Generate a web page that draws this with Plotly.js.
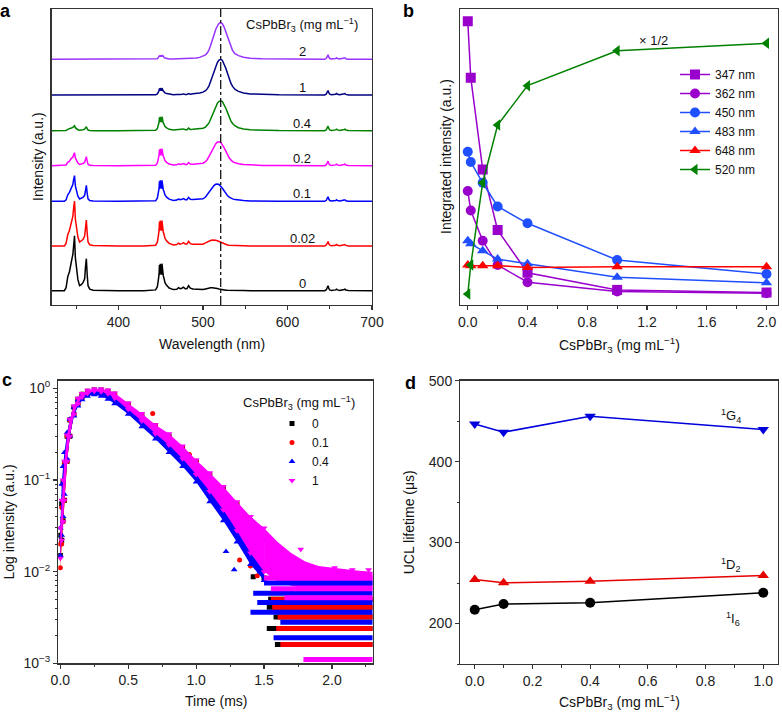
<!DOCTYPE html>
<html><head><meta charset="utf-8">
<script src="https://cdn.plot.ly/plotly-3.0.1.min.js"></script>
<style>html,body{margin:0;padding:0;background:#fff;}#chart{width:782px;height:712px;}</style>
</head><body><div id="chart"></div>
<script>
// ================= Panel a : emission spectra =================
const wavelength = [
 321, 336, 338, 340, 342, 344, 345, 346, 347, 348,
 349, 350, 352, 354, 356, 358, 360, 361, 362, 363,
 364, 366, 370, 400, 430, 444, 446, 447, 448, 448.5,
 449, 449.5, 450, 450.5, 451, 451.5, 452, 452.5, 453, 454,
 455, 457, 460, 465, 469, 471, 473, 475, 477, 479,
 481, 483, 485, 488, 492, 496, 500, 503, 505, 507,
 509, 511, 513, 515, 517, 519, 521, 523, 525, 527,
 529, 531, 533, 535, 538, 542, 548, 556, 570, 590,
 644, 646, 647, 648, 649, 650, 652, 655, 657, 658,
 659, 662, 666, 667, 668, 669, 672, 700];
const spectrum_0 = [
 0, 0, 3, 14, 19, 30, 32, 36, 47, 55,
 33, 23, 11, 5, 6, 8, 12, 24, 32, 16,
 5, 1.5, 0.5, 0, 0, 0.8, 4, 9.5, 16, 25.6,
 16, 27, 17.5, 25.6, 16, 27, 19, 24.3, 15, 12,
 8, 5.4, 2.7, 1.1, 1.5, 3, 2, 2.5, 3.5, 2,
 2, 5, 2.5, 1.7, 1.5, 1.1, 1.2, 1.8, 2.3, 2.7,
 2.9, 3, 2.9, 2.6, 2.2, 1.8, 1.3, 1, 0.7, 0.5,
 0.4, 0.3, 0.25, 0.2, 0.1, 0.1, 0.1, 0, 0, 0,
 0, 1, 3, 5, 2, 0.8, 0.3, 0.3, 0.8, 1.5,
 0.8, 0.3, 0.5, 1.2, 1.5, 0.6, 0.1, 0];
const spectrum_002 = [
 0, 0, 2.5, 11.5, 15.5, 24.5, 26, 29.5, 38.5, 45,
 27, 19, 9, 4, 5, 6.5, 10, 19.5, 26, 13,
 4, 1.2, 0.4, 0, 0, 0.8, 3.8, 8.9, 15.3, 24.2,
 15.3, 25.5, 16.6, 24.2, 15.3, 25.5, 17.9, 23, 14, 11.5,
 7.7, 5.1, 2.6, 1, 1.4, 2.8, 1.9, 2.4, 3.3, 1.9,
 1.9, 4.7, 2.4, 1.7, 1.6, 1.4, 1.8, 3.2, 4.1, 4.9,
 5.5, 5.9, 6, 5.8, 5.3, 4.5, 3.7, 2.7, 2, 1.4,
 1, 0.8, 0.7, 0.5, 0.4, 0.3, 0.2, 0.1, 0, 0,
 0, 1, 3, 4.5, 2, 0.8, 0.3, 0.3, 0.8, 1.5,
 0.8, 0.3, 0.5, 1.2, 1.5, 0.6, 0.1, 0];
const spectrum_01 = [
 0, 0, 1.4, 6.5, 8.9, 14, 15, 16.8, 22, 25.7,
 15.4, 10.7, 5.1, 2.3, 2.8, 4, 6, 12, 16, 8,
 2.5, 0.8, 0.3, 0, 0, 0.6, 3.2, 7.4, 12.6, 20,
 12.6, 21, 13.7, 20, 12.6, 21, 14.7, 18.9, 11.6, 9.5,
 6.3, 4.2, 2.1, 0.8, 1.2, 2.3, 1.6, 2, 2.7, 1.6,
 1.6, 3.9, 2, 1.8, 1.8, 1.8, 2.5, 4.3, 6.6, 9.2,
 11.8, 14, 15.7, 17, 17.3, 16.8, 15.2, 13, 10.6, 7.8,
 5.7, 4.2, 2.9, 2.4, 1.7, 1.1, 0.7, 0.4, 0.2, 0.1,
 0, 1, 3, 4.5, 2, 0.8, 0.3, 0.3, 0.8, 1.5,
 0.8, 0.3, 0.5, 1.2, 1.5, 0.6, 0.1, 0];
const spectrum_02 = [
 0, 0, 0.7, 3.3, 4.5, 7.1, 7.6, 8.5, 11.1, 13,
 7.8, 5.4, 2.6, 1.2, 1.4, 2.2, 3.4, 6.7, 9, 4.5,
 1.4, 0.4, 0.1, 0, 0, 0.5, 2.6, 6, 10.2, 16.2,
 10.2, 17, 11, 16.2, 10.2, 17, 11.9, 15.3, 9.4, 7.7,
 5.1, 3.4, 1.7, 0.7, 0.9, 1.9, 1.3, 1.6, 2.2, 1.3,
 1.3, 3.2, 1.6, 1.5, 1.8, 1.8, 2.5, 4.1, 6, 9.1,
 12.7, 16.3, 19.4, 21.8, 23.5, 24, 23.3, 21.1, 18, 14.6,
 10.8, 7.9, 5.8, 4.1, 3, 1.9, 1.2, 0.7, 0.3, 0.1,
 0, 1, 3, 4.5, 2, 0.8, 0.3, 0.3, 0.8, 1.5,
 0.8, 0.3, 0.5, 1.2, 1.5, 0.6, 0.1, 0];
const spectrum_04 = [
 0, 0, 0.3, 1.3, 1.7, 2.7, 2.9, 3.3, 4.3, 5,
 3, 2.1, 1, 0.5, 0.5, 1, 1.5, 3, 4, 2,
 0.6, 0.2, 0, 0, 0, 0.4, 2.1, 4.9, 8.4, 13.3,
 8.4, 14, 9.1, 13.3, 8.4, 14, 9.8, 12.6, 7.7, 6.3,
 4.2, 2.8, 1.4, 0.6, 0.8, 1.6, 1, 1.3, 1.8, 1,
 1, 2.6, 1.3, 1.4, 1.5, 1.8, 2.4, 3.6, 5.1, 7.5,
 11.4, 15.9, 20.4, 24.3, 27.3, 29.4, 30, 29.1, 26.4, 22.5,
 18.3, 13.5, 9.9, 7.2, 4.7, 3, 1.7, 0.9, 0.5, 0.15,
 0, 1, 3, 4.5, 2, 0.8, 0.3, 0.3, 0.8, 1.5,
 0.8, 0.3, 0.5, 1.2, 1.5, 0.6, 0.1, 0];
const spectrum_1 = [
 0, 0, 0, 0, 0, 0.1, 0.2, 0.3, 0.4, 0.5,
 0.3, 0.1, 0, 0, 0, 0, 0.1, 0.3, 0.5, 0.2,
 0, 0, 0, 0, 0, 0.2, 1.1, 2.5, 4.2, 6.7,
 4.2, 7, 4.6, 6.7, 4.2, 7, 4.9, 6.3, 3.9, 3.2,
 2.1, 1.4, 0.7, 0.3, 0.5, 0.9, 0.6, 0.8, 1.1, 0.6,
 0.6, 1.5, 0.8, 1.2, 1.5, 2, 2.9, 4.3, 6.1, 8.9,
 13.6, 18.9, 24.3, 28.9, 32.5, 35, 35.7, 34.6, 31.4, 26.8,
 21.8, 16.1, 11.8, 8.6, 5.5, 3.6, 2, 1.1, 0.5, 0.2,
 0, 1, 3, 4.5, 2, 0.8, 0.3, 0.3, 0.8, 1.5,
 0.8, 0.3, 0.5, 1.2, 1.5, 0.6, 0.1, 0];
const spectrum_2 = [
 0, 0, 0, 0, 0, 0, 0, 0, 0, 0,
 0, 0, 0, 0, 0, 0, 0, 0, 0, 0,
 0, 0, 0, 0, 0, 0.1, 0.6, 1.4, 2.4, 3.8,
 2.4, 4, 2.6, 3.8, 2.4, 4, 2.8, 3.6, 2.2, 1.8,
 1.2, 0.8, 0.4, 0.2, 0.3, 0.6, 0.4, 0.5, 0.7, 0.4,
 0.4, 1, 0.5, 1, 1.3, 1.9, 2.9, 4.4, 6.2, 9.2,
 13.9, 19.4, 24.9, 29.6, 33.3, 35.9, 36.6, 35.5, 32.2, 27.5,
 22.3, 16.5, 12.1, 8.8, 5.7, 3.7, 2, 1.1, 0.5, 0.2,
 0, 1, 3, 4.5, 2, 0.8, 0.3, 0.3, 0.8, 1.5,
 0.8, 0.3, 0.5, 1.2, 1.5, 0.6, 0.1, 0];
const spectraLabels = ['0', '0.02', '0.1', '0.2', '0.4', '1', '2'];
const referenceWavelength = 521;

// ================= Panel b : integrated intensity =================
const concB = [0, 0.02, 0.1, 0.2, 0.4, 1, 2];
const int347 = [95.9, 76.8, 45.8, 25.3, 10.9, 5.1, 4.2];
const int362 = [38.5, 31.9, 21.7, 13.5, 7.7, 4.6, 4.0];
const int450 = [51.8, 48.3, 41.3, 33.3, 27.6, 15.2, 10.5];
const int483 = [21.7, 20.7, 18.3, 15.5, 13.9, 9.4, 7.5];
const int648 = [13.5, 13.3, 13.3, 13.3, 12.7, 12.9, 12.9];
const int520 = [3.7, 13.5, 41.3, 60.8, 74.1, 85.9, 88.4];
const bandNamesB = ['347 nm', '362 nm', '450 nm', '483 nm', '648 nm', '520 nm'];

// ================= Panel c : decay curves =================
const timeMs = [0, 0.01, 0.02, 0.03, 0.05, 0.07, 0.1, 0.13, 0.16, 0.2, 0.25, 0.3, 0.35, 0.4, 0.5, 0.6, 0.7, 0.8, 0.9, 1.0, 1.1, 1.2, 1.3, 1.4, 1.5];
const decay0Hi = [0.025, 0.055, 0.095, 0.15, 0.3, 0.45, 0.62, 0.76, 0.86, 0.93, 0.96, 0.96, 0.93, 0.86, 0.67, 0.51, 0.39, 0.3, 0.22, 0.16, 0.115, 0.08, 0.055, 0.036, 0.022];
const decay0Lo = [0.015, 0.022, 0.036, 0.06, 0.16, 0.3, 0.52, 0.68, 0.8, 0.88, 0.93, 0.92, 0.87, 0.79, 0.6, 0.45, 0.33, 0.25, 0.18, 0.12, 0.08, 0.052, 0.03, 0.017, 0.011];
const decay01Hi = [0.02, 0.05, 0.09, 0.15, 0.3, 0.45, 0.62, 0.76, 0.86, 0.93, 0.96, 0.96, 0.93, 0.86, 0.67, 0.51, 0.39, 0.3, 0.22, 0.16, 0.115, 0.08, 0.055, 0.035, 0.022];
const decay01Lo = [0.011, 0.02, 0.035, 0.06, 0.16, 0.3, 0.52, 0.68, 0.8, 0.88, 0.93, 0.92, 0.87, 0.79, 0.6, 0.45, 0.33, 0.25, 0.18, 0.12, 0.08, 0.052, 0.03, 0.017, 0.011];
const decay04Hi = [0.03, 0.09, 0.14, 0.2, 0.33, 0.46, 0.62, 0.75, 0.84, 0.9, 0.94, 0.92, 0.87, 0.8, 0.62, 0.47, 0.35, 0.27, 0.19, 0.135, 0.095, 0.065, 0.045, 0.03, 0.022];
const decay04Lo = [0.015, 0.025, 0.04, 0.07, 0.17, 0.3, 0.5, 0.64, 0.75, 0.82, 0.85, 0.82, 0.76, 0.68, 0.52, 0.38, 0.28, 0.2, 0.14, 0.095, 0.058, 0.036, 0.021, 0.012, 0.008];
const decay1Hi = [0.03, 0.06, 0.1, 0.16, 0.31, 0.46, 0.64, 0.78, 0.88, 0.95, 0.98, 0.98, 0.96, 0.89, 0.69, 0.53, 0.4, 0.32, 0.235, 0.165, 0.12, 0.085, 0.058, 0.04, 0.03];
const decay1Lo = [0.014, 0.022, 0.035, 0.06, 0.16, 0.3, 0.52, 0.68, 0.8, 0.88, 0.93, 0.92, 0.87, 0.78, 0.59, 0.44, 0.32, 0.24, 0.17, 0.115, 0.075, 0.047, 0.028, 0.016, 0.01];
// sample "1" keeps a dense band in the late tail
const tailTimeMs = [1.5, 1.6, 1.7, 1.8, 1.9, 2.0, 2.1, 2.2, 2.3];
const decay1TailHi = [0.03, 0.021, 0.016, 0.013, 0.0115, 0.011, 0.0105, 0.0102, 0.01];
const decay1TailLo = [0.01, 0.0078, 0.007, 0.0066, 0.0064, 0.0063, 0.0063, 0.0063, 0.0063];
// long-time tail: quantised count levels (value) and the time where each level starts
const tail0Level = [0.0016, 0.0024, 0.0032, 0.0041, 0.005];
const tail0Start = [1.58, 1.52, 1.57, 1.52, 1.53];
const tail01Level = [0.0016, 0.0024, 0.0032, 0.0041, 0.005];
const tail01Start = [1.62, 1.59, 1.6, 1.56, 1.55];
const tail04Level = [0.0019, 0.0028, 0.0036, 0.0046, 0.0058, 0.0075];
const tail04Start = [1.57, 1.62, 1.4, 1.45, 1.42, 1.5];
const tail1Level = [0.0011, 0.0052, 0.0065, 0.0085];
const tail1Start = [1.79, 1.65, 1.55, 1.5];
// scattered points that stand out of the dense band
const scatter0T = [1.27, 1.42, 1.5, 1.62, 2.12]; const scatter0V = [0.05, 0.0088, 0.0085, 0.0146, 0.0072];
const scatter01T = [0.68, 0.95, 1.0, 1.32, 1.4, 1.45, 2.05]; const scatter01V = [0.53, 0.19, 0.15, 0.0134, 0.0115, 0.009, 0.0075];
const scatter04T = [1.22, 1.28, 1.45, 1.47, 1.6, 1.8, 2.15, 2.25]; const scatter04V = [0.0166, 0.0105, 0.012, 0.01, 0.009, 0.0085, 0.0083, 0.0085];
const scatter1T = [1.55, 1.62, 1.65, 1.72, 1.77, 1.85, 1.95, 2.02, 2.1, 2.15, 2.2, 2.27];
const scatter1V = [0.016, 0.013, 0.015, 0.012, 0.0175, 0.011, 0.0105, 0.011, 0.0095, 0.0105, 0.0092, 0.0105];
const decayLabels = ['0', '0.1', '0.4', '1'];

// ================= Panel d : lifetimes =================
const concD = [0, 0.1, 0.4, 1.0];
const life1G4 = [446.5, 436.4, 456, 439.7];
const life1D2 = [254.3, 250.3, 252.3, 259.2];
const life1I6 = [217.1, 224.1, 225.7, 238];

// ================= build =================
const W = 782, H = 712;
const FONT = 'Liberation Sans, Arial, Helvetica, sans-serif';
const px = v => v / W, py = v => 1 - v / H;
const traces = [];

// panel a
const specColors = ['#000000', '#ff0000', '#0000ff', '#ff00ff', '#008000', '#000080', '#9933ff'];
const specOffsets = [14.3, 59, 103.7, 139.3, 174.3, 210, 245.7];
const spectra = [spectrum_0, spectrum_002, spectrum_01, spectrum_02, spectrum_04, spectrum_1, spectrum_2];
spectra.forEach((s, i) => {
  traces.push({type: 'scatter', mode: 'lines', x: wavelength, y: s.map(v => v + specOffsets[i]),
    line: {color: specColors[i], width: 1.5}, xaxis: 'x', yaxis: 'y', showlegend: false, hoverinfo: 'skip'});
});
traces.push({type: 'scatter', mode: 'lines', x: [referenceWavelength, referenceWavelength], y: [0, 296],
  line: {color: '#000', width: 1.2, dash: 'dashdot'}, xaxis: 'x', yaxis: 'y', showlegend: false});

// panel b
const bSeries = [int347, int362, int450, int483, int648, int520];
const bColors = ['#9900cc', '#9900cc', '#1f4fff', '#1f4fff', '#ff0000', '#008000'];
const bSymbols = ['square', 'circle', 'circle', 'triangle-up', 'triangle-up', 'triangle-left'];
bSeries.forEach((s, i) => {
  traces.push({type: 'scatter', mode: 'lines+markers', x: concB, y: s, name: bandNamesB[i],
    line: {color: bColors[i], width: 1.5}, marker: {color: bColors[i], symbol: bSymbols[i], size: 10},
    xaxis: 'x2', yaxis: 'y2', legend: 'legend'});
});

// panel c
const tEnd = 2.3;
const cSeries = [
  {hi: decay0Hi, lo: decay0Lo, lv: tail0Level, st: tail0Start, sx: scatter0T, sy: scatter0V, color: '#000000', sym: 'square', size: 5},
  {hi: decay01Hi, lo: decay01Lo, lv: tail01Level, st: tail01Start, sx: scatter01T, sy: scatter01V, color: '#ff0000', sym: 'circle', size: 5},
  {hi: decay04Hi, lo: decay04Lo, lv: tail04Level, st: tail04Start, sx: scatter04T, sy: scatter04V, color: '#0000ff', sym: 'triangle-up', size: 6},
  {hi: decay1Hi, lo: decay1Lo, lv: tail1Level, st: tail1Start, sx: scatter1T, sy: scatter1V, color: '#ff00ff', sym: 'triangle-down', size: 6}
];
const band = (t, hi, lo, color) => ({type: 'scatter', mode: 'lines', x: t.concat(t.slice().reverse()),
  y: hi.concat(lo.slice().reverse()), fill: 'toself', fillcolor: color,
  line: {width: 0, color: color}, xaxis: 'x3', yaxis: 'y3', showlegend: false, hoverinfo: 'skip'});
const markerTrace = (s, i) => ({type: 'scatter', mode: 'markers', name: decayLabels[i],
  x: timeMs.concat(timeMs, s.sx), y: s.hi.concat(s.lo, s.sy),
  marker: {color: s.color, symbol: s.sym, size: s.size}, xaxis: 'x3', yaxis: 'y3', legend: 'legend2'});
// samples 0, 0.1, 0.4 beneath, sample 1 on top
cSeries.slice(0, 3).forEach((s, i) => { traces.push(band(timeMs, s.hi, s.lo, s.color)); traces.push(markerTrace(s, i)); });
const m = cSeries[3];
traces.push(band(timeMs, m.hi, m.lo, m.color));
traces.push(band(tailTimeMs, decay1TailHi, decay1TailLo, m.color));
cSeries.forEach(s => {
  const sx = [], sy = [];
  s.lv.forEach((l, k) => { sx.push(s.st[k], tEnd, null); sy.push(l, l, null); });
  traces.push({type: 'scatter', mode: 'lines', x: sx, y: sy, line: {color: s.color, width: 5},
    xaxis: 'x3', yaxis: 'y3', showlegend: false, hoverinfo: 'skip', connectgaps: false});
});
traces.push(markerTrace(m, 3));

// panel d
const dSeries = [life1G4, life1D2, life1I6];
const dColors = ['#0000dd', '#e60000', '#000000'];
const dSymbols = ['triangle-down', 'triangle-up', 'circle'];
dSeries.forEach((s, i) => {
  traces.push({type: 'scatter', mode: 'lines+markers', x: concD, y: s,
    line: {color: dColors[i], width: 1.5}, marker: {color: dColors[i], symbol: dSymbols[i], size: 10},
    xaxis: 'x4', yaxis: 'y4', showlegend: false});
});

const axBase = {showline: true, mirror: true, linecolor: '#333', linewidth: 1.3, showgrid: false, zeroline: false,
  ticks: 'outside', ticklen: 4, tickwidth: 1.2, tickcolor: '#333', tickfont: {size: 14, color: '#222', family: FONT},
  automargin: false, fixedrange: true};
const noTicks = Object.assign({}, axBase, {ticks: '', showticklabels: false});
const minorLin = d => ({ticks: 'outside', ticklen: 2.5, tickwidth: 1, tickcolor: '#333', dtick: d, showgrid: false});
const logMinor = [];
for (let k = -3; k < 0; k++) for (let j = 2; j <= 9; j++) logMinor.push(j * Math.pow(10, k));

const sub3 = 'CsPbBr<sub>3</sub> (mg mL<sup>−1</sup>)';
const ann = (x, y, text, extra) => Object.assign({x: x, y: y, xref: 'paper', yref: 'paper', text: text, showarrow: false,
  font: {size: 14, color: '#111', family: FONT}, xanchor: 'center', yanchor: 'middle'}, extra || {});
const bold = {font: {size: 18, color: '#000', family: FONT}};
const annotations = [
  ann(px(5), py(11), '<b>a</b>', bold),
  ann(px(408), py(11), '<b>b</b>', bold),
  ann(px(7), py(380), '<b>c</b>', bold),
  ann(px(410), py(383), '<b>d</b>', bold),
  ann(px(38), py(157), 'Intensity (a.u.)', {textangle: -90}),
  ann(px(212), py(344), 'Wavelength (nm)'),
  ann(px(446), py(157), 'Integrated intensity (a.u.)', {textangle: -90}),
  ann(px(619), py(345), sub3),
  ann(px(8.5), py(522), 'Log intensity (a.u.)', {textangle: -90}),
  ann(px(215.5), py(700.7), 'Time (ms)'),
  ann(px(409.3), py(522), 'UCL lifetime (μs)', {textangle: -90}),
  ann(px(619), py(701.7), sub3),
  ann(px(299), py(402.7), sub3, {font: {size: 13, color: '#111', family: FONT}}),
  {x: 617.5, y: 280, xref: 'x', yref: 'y', text: sub3, showarrow: false, font: {size: 13, color: '#111', family: FONT}},
  {x: 1.245, y: 89.2, xref: 'x2', yref: 'y2', text: '× 1/2', showarrow: false, font: {size: 13, color: '#111', family: FONT}},
  {x: 0.888, y: 456, xref: 'x4', yref: 'y4', text: '<sup>1</sup>G<sub>4</sub>', showarrow: false, font: {size: 13, color: '#111', family: FONT}},
  {x: 0.888, y: 272.7, xref: 'x4', yref: 'y4', text: '<sup>1</sup>D<sub>2</sub>', showarrow: false, font: {size: 13, color: '#111', family: FONT}},
  {x: 0.895, y: 205.8, xref: 'x4', yref: 'y4', text: '<sup>1</sup>I<sub>6</sub>', showarrow: false, font: {size: 13, color: '#111', family: FONT}}
];
spectraLabels.forEach((l, i) => annotations.push({x: 617.5, y: specOffsets[i] + 7.5, xref: 'x', yref: 'y', text: l,
  showarrow: false, font: {size: 13, color: '#111', family: FONT}}));

const layout = {
  width: W, height: H, margin: {l: 0, r: 0, t: 0, b: 0}, paper_bgcolor: '#fff', plot_bgcolor: '#fff',
  font: {family: FONT, color: '#111'},
  xaxis: Object.assign({}, axBase, {domain: [px(51.7), px(372)], anchor: 'y', range: [321, 700], tick0: 0, dtick: 100, minor: minorLin(50)}),
  yaxis: Object.assign({}, noTicks, {domain: [py(305), py(9)], anchor: 'x', range: [0, 296]}),
  xaxis2: Object.assign({}, axBase, {domain: [px(460.3), px(777.7)], anchor: 'y2', range: [-0.05, 2.075], tick0: 0, dtick: 0.4, tickformat: '.1f', minor: minorLin(0.2)}),
  yaxis2: Object.assign({}, noTicks, {domain: [py(305), py(9)], anchor: 'x2', range: [0, 100]}),
  xaxis3: Object.assign({}, axBase, {domain: [px(58.3), px(372.7)], anchor: 'y3', range: [-0.015, 2.3], tick0: 0, dtick: 0.5, tickformat: '.1f', minor: minorLin(0.25)}),
  yaxis3: Object.assign({}, axBase, {domain: [py(663.3), py(380.7)], anchor: 'x3', type: 'log', range: [-3, 0.083],
    tickmode: 'array', tickvals: [0.001, 0.01, 0.1, 1], ticktext: ['10<sup>−3</sup>', '10<sup>−2</sup>', '10<sup>−1</sup>', '10<sup>0</sup>'],
    minor: {ticks: 'outside', ticklen: 2.5, tickwidth: 1, tickcolor: '#333', tickmode: 'array', tickvals: logMinor, showgrid: false}}),
  xaxis4: Object.assign({}, axBase, {domain: [px(460.3), px(777.7)], anchor: 'y4', range: [-0.05, 1.05], tick0: 0, dtick: 0.2, tickformat: '.1f', minor: minorLin(0.1)}),
  yaxis4: Object.assign({}, axBase, {domain: [py(664), py(380.7)], anchor: 'x4', range: [150, 500], tick0: 0, dtick: 100, minor: minorLin(50)}),
  legend: {x: px(675), y: py(60), xanchor: 'left', yanchor: 'top', bgcolor: 'rgba(0,0,0,0)', font: {size: 12, color: '#111', family: FONT}, tracegroupgap: 0, itemwidth: 30},
  legend2: {x: px(272), y: py(409), xanchor: 'left', yanchor: 'top', bgcolor: 'rgba(0,0,0,0)', font: {size: 12, color: '#111', family: FONT}, tracegroupgap: 0, itemwidth: 30},
  annotations: annotations
};
Plotly.newPlot('chart', traces, layout, {staticPlot: true, displayModeBar: false});
</script></body></html>
